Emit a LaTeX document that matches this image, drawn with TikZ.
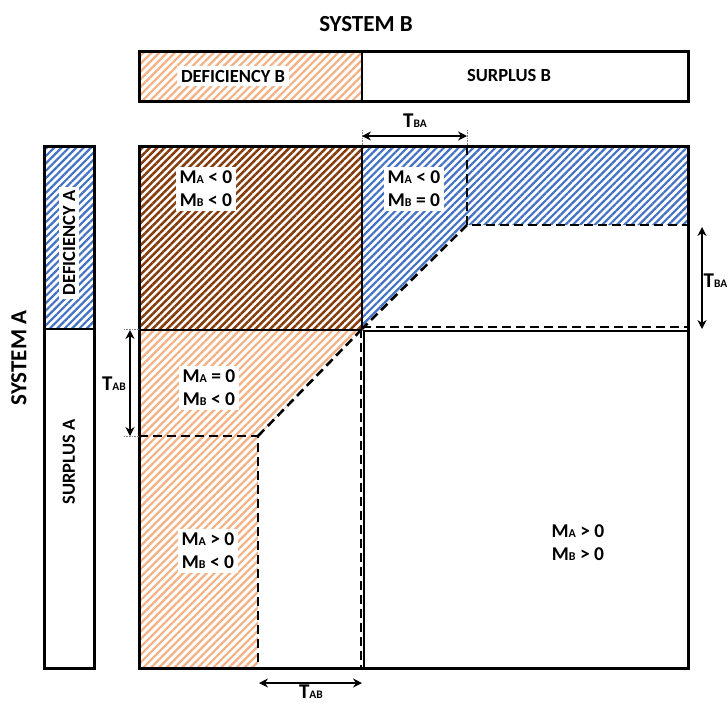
\documentclass[tikz,border=0pt]{standalone}
\usepackage{fontspec}
\setmainfont{Carlito}
\usetikzlibrary{patterns.meta,arrows.meta}
\definecolor{bluehatch}{HTML}{4472C4}
\definecolor{orangehatch}{HTML}{F4B183}
\definecolor{brownhatch}{HTML}{843C0C}
\newcommand\Msub[1]{M{\fontsize{12}{12}\selectfont #1}}
\newcommand\Tsub[1]{{\fontsize{21}{21}\selectfont T}{\fontsize{11.5}{11.5}\selectfont #1}}
\tikzset{
  border/.style={line width=3pt},
  divider/.style={line width=2.6pt},
  dashline/.style={line width=2.6pt, dash pattern=on 9pt off 5pt},
  tarrow/.style={line width=2.4pt, {Stealth[length=9pt,width=9pt]}-{Stealth[length=9pt,width=9pt]}},
  guide/.style={gray, line width=0.6pt, densely dotted},
  lbl/.style={fill=white, align=center, font=\fontsize{19.5}{23}\selectfont\bfseries, inner sep=4pt},
  bartext/.style={fill=white, font=\fontsize{18.5}{21}\selectfont\bfseries, inner sep=4pt},
  titletext/.style={font=\fontsize{23}{26}\selectfont\bfseries, inner sep=0pt},
  tlabel/.style={font=\bfseries, inner sep=0pt},
  hbrown/.style={pattern={Lines[angle=45,distance=5.2pt,line width=2.5pt]}, pattern color=brownhatch},
  hblue/.style={pattern={Lines[angle=45,distance=5.2pt,line width=2.2pt]}, pattern color=bluehatch},
  horange/.style={pattern={Lines[angle=45,distance=5.5pt,line width=2.2pt]}, pattern color=orangehatch},
}
\begin{document}
\begin{tikzpicture}[x=1pt,y=-1pt]
\useasboundingbox[fill=white] (0,0) rectangle (728,702);

% ---- System B bar ----
\fill[horange] (139,51) rectangle (362,101);
\draw[border] (139,51) rectangle (688,101);
\draw[divider] (362,51) -- (362,101);
\node[titletext] (sysB) at (366,24) {SYSTEM B};
\node[bartext] (defB) at (233,76) {DEFICIENCY B};
\node[bartext, fill=none] (surB) at (509,75) {SURPLUS B};

% ---- System A bar ----
\fill[hblue] (44,146) rectangle (94,329);
\draw[border] (44,146) rectangle (94,668);
\draw[divider] (44,329) -- (94,329);
\node[titletext, rotate=90] (sysA) at (19,358) {SYSTEM A};
\node[bartext, rotate=90] (defA) at (69,243) {DEFICIENCY A};
\node[bartext, rotate=90, fill=none] (surA) at (69,462) {SURPLUS A};

% ---- hatched regions ----
\fill[hbrown] (139,146) rectangle (362,329);
\fill[hblue] (362,146) -- (688,146) -- (688,225) -- (467,225) -- (362,329) -- cycle;
\fill[horange] (139,329) -- (362,329) -- (258,436) -- (258,668) -- (139,668) -- cycle;

% ---- solid structure ----
\draw[line width=1.5pt] (362,146) -- (362,329);
\draw[divider] (139,330) -- (362,330);
\draw[divider] (363,331) -- (688,331);
\draw[divider] (364,331) -- (364,668);
\draw[border] (139,146) rectangle (688,668);

% ---- dashed boundaries ----
\draw[dashline] (467,146) -- (467,225) -- (688,225);
\draw[dashline] (467,225) -- (362,329);
\draw[dashline] (362,327) -- (688,327);
\draw[dashline] (139,436) -- (258,436) -- (258,668);
\draw[dashline] (258,436) -- (362,329);
\draw[dashline] (361,329) -- (361,668);

% ---- region labels ----
\node[lbl] (r11) at (206,189) {\Msub{A} < 0\\\Msub{B} < 0};
\node[lbl] (r12) at (414,189) {\Msub{A} < 0\\\Msub{B} = 0};
\node[lbl] (r21) at (209,388) {\Msub{A} = 0\\\Msub{B} < 0};
\node[lbl] (r31) at (208,551) {\Msub{A} > 0\\\Msub{B} < 0};
\node[lbl, fill=none] (r22) at (578,543) {\Msub{A} > 0\\\Msub{B} > 0};

% ---- T_BA top ----
\coordinate (tbaL) at (362,136);
\coordinate (tbaR) at (467,136);
\draw[guide] (362,130) -- (362,146);
\draw[guide] (467,130) -- (467,146);
\draw[tarrow] (tbaL) -- (tbaR);
\node[tlabel] (tbaTop) at (415,121) {\Tsub{BA}};

% ---- T_BA right ----
\coordinate (tbrT) at (702,227);
\coordinate (tbrB) at (702,329);
\draw[tarrow] (tbrT) -- (tbrB);
\node[tlabel, anchor=east] (tbaRight) at (727.5,281) {\Tsub{BA}};

% ---- T_AB left ----
\coordinate (tabT) at (130,330);
\coordinate (tabB) at (130,436);
\draw[guide] (124,329) -- (139,329);
\draw[guide] (124,436) -- (139,436);
\draw[tarrow] (tabT) -- (tabB);
\node[tlabel] (tabLeft) at (114,384) {\Tsub{AB}};

% ---- T_AB bottom ----
\coordinate (tabbL) at (259,683);
\coordinate (tabbR) at (362,683);
\draw[tarrow] (tabbL) -- (tabbR);
\node[tlabel, anchor=base] (tabBottom) at (311,698) {\Tsub{AB}};
\end{tikzpicture}
\end{document}
